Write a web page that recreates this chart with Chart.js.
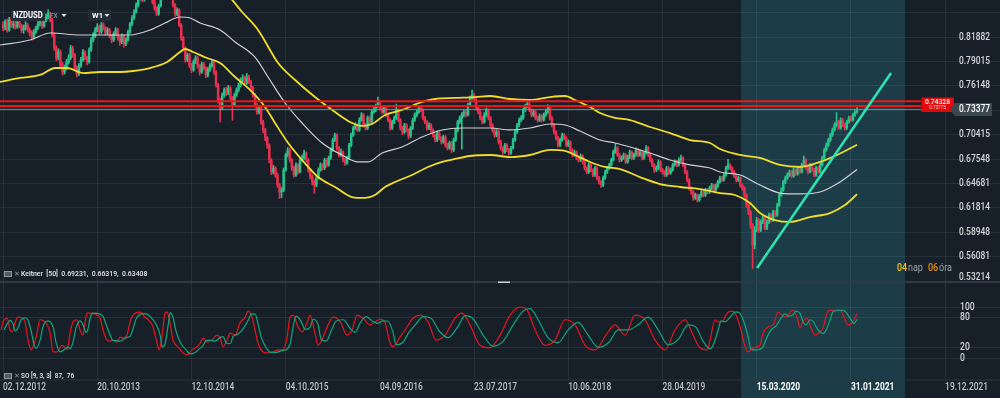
<!DOCTYPE html>
<html>
<head>
<meta charset="utf-8">
<script src="https://cdn.jsdelivr.net/npm/chart.js@4"></script>
<style>
html, body { margin: 0; padding: 0; background: #172029; overflow: hidden; }
#wrap { position: relative; width: 1000px; height: 398px; }
canvas { position: absolute; left: 0; }
#main { top: 0; }
#osc { top: 283px; }
</style>
</head>
<body>
<div id="wrap">
  <canvas id="main" width="1000" height="283"></canvas>
  <canvas id="osc" width="1000" height="115"></canvas>
</div>
<script>
// NZDUSD weekly candles, prices in pips (1/10000)
const firstOpenPips = 8330;
const closePips = [
  8294,8365,8271,8388,8329,8341,8306,8365,8318,8271,
  8294,8329,8271,8235,8188,8247,8294,8341,8365,8318,
  8388,8423,8459,8388,8212,8059,7942,8012,7859,7777,
  7824,7895,7942,8059,7977,7824,7754,7848,7918,8012,
  7942,7895,8036,8153,8200,8271,8306,8247,8329,8294,
  8235,8271,8200,8153,8224,8271,8177,8130,8200,8106,
  8153,8247,8341,8412,8482,8564,8647,8682,8623,8717,
  8741,8694,8658,8600,8529,8459,8553,8647,8694,8764,
  8799,8741,8682,8564,8459,8506,8329,8177,8059,7918,
  7977,7859,7801,7895,7942,7848,7777,7871,7824,7742,
  7801,7848,7895,7777,7624,7448,7354,7507,7566,7530,
  7589,7472,7389,7507,7566,7624,7683,7707,7648,7718,
  7660,7589,7507,7389,7307,7354,7190,7096,7002,6919,
  6743,6602,6649,6567,6449,6367,6391,6626,6802,6861,
  6743,6649,6567,6685,6602,6743,6767,6825,6743,6626,
  6555,6485,6449,6532,6626,6685,6649,6743,6685,6767,
  6861,6978,7037,6884,6802,6837,6743,6708,6767,6919,
  7037,7119,7154,7096,7213,7272,7154,7119,7237,7190,
  7307,7331,7378,7413,7354,7307,7354,7272,7213,7119,
  7190,7237,7331,7213,7119,7072,7154,7096,7025,7119,
  7213,7272,7307,7354,7331,7237,7190,7119,7154,7096,
  7037,6978,7060,7002,6955,7013,6919,6884,6943,6861,
  6978,7096,7190,7237,7272,7307,7272,7389,7472,7507,
  7448,7354,7307,7237,7190,7272,7331,7237,7154,7096,
  7037,7072,6955,6884,6837,6919,6861,6825,6884,6978,
  7072,7154,7213,7237,7331,7378,7401,7331,7272,7307,
  7237,7213,7260,7213,7272,7307,7354,7237,7154,7072,
  7002,6919,6978,7037,7002,6919,6955,6861,6802,6837,
  6767,6743,6790,6720,6649,6602,6685,6626,6567,6649,
  6532,6485,6449,6532,6602,6649,6685,6743,6837,6884,
  6802,6743,6767,6802,6720,6778,6837,6767,6802,6861,
  6802,6837,6767,6825,6884,6802,6743,6685,6626,6649,
  6720,6626,6602,6567,6649,6590,6626,6685,6720,6685,
  6743,6767,6685,6602,6508,6414,6367,6297,6332,6273,
  6320,6367,6332,6391,6367,6414,6449,6391,6438,6485,
  6532,6508,6567,6649,6685,6649,6602,6555,6508,6532,
  6449,6414,6332,6214,6132,5979,5744,5921,6038,5921,
  6015,6062,5944,6015,6097,6038,6132,6097,6214,6332,
  6391,6485,6532,6567,6602,6555,6626,6579,6649,6602,
  6685,6743,6649,6602,6685,6626,6567,6649,6602,6685,
  6767,6861,6919,6978,7037,7096,7154,7190,7119,7213,
  7154,7119,7190,7237,7213,7272,7307,7338
];
const highPips = [
  8372,8390,8398,8420,8412,8380,8372,8395,8384,8340,
  8330,8368,8350,8296,8262,8275,8318,8372,8402,8390,
  8420,8460,8510,8480,8410,8240,8085,8050,8035,7890,
  7860,7925,7980,8090,8080,7995,7850,7875,7950,8040,
  8030,7965,8060,8180,8240,8300,8345,8330,8360,8355,
  8310,8300,8290,8220,8250,8300,8290,8200,8225,8215,
  8180,8270,8360,8440,8510,8590,8670,8720,8705,8745,
  8780,8760,8715,8680,8620,8545,8575,8670,8720,8790,
  8840,8820,8760,8700,8580,8530,8520,8345,8195,8075,
  8000,7995,7880,7920,7970,7960,7865,7895,7890,7840,
  7830,7875,7925,7910,7795,7640,7470,7530,7590,7600,
  7620,7605,7490,7530,7590,7650,7710,7745,7730,7760,
  7740,7680,7610,7525,7410,7380,7370,7210,7115,7020,
  6935,6760,6680,6665,6590,6470,6420,6650,6825,6890,
  6880,6760,6670,6710,6700,6770,6800,6860,6840,6760,
  6640,6570,6510,6560,6650,6710,6700,6765,6760,6790,
  6885,7000,7060,7050,6900,6870,6850,6765,6790,6940,
  7060,7140,7180,7170,7240,7300,7290,7175,7260,7255,
  7330,7360,7400,7483,7430,7370,7380,7370,7290,7230,
  7210,7260,7400,7345,7230,7140,7175,7170,7110,7140,
  7235,7295,7330,7380,7375,7345,7255,7205,7180,7170,
  7110,7050,7085,7075,7020,7035,7030,6940,6965,6960,
  7000,7115,7210,7260,7300,7335,7330,7410,7495,7566,
  7530,7465,7375,7325,7255,7300,7355,7345,7255,7170,
  7110,7100,7090,6975,6900,6940,6935,6880,6905,7000,
  7095,7175,7235,7265,7355,7400,7440,7420,7345,7330,
  7325,7260,7285,7275,7295,7330,7395,7370,7255,7170,
  7090,7020,7000,7060,7055,7020,6980,6970,6880,6860,
  6850,6790,6815,6805,6735,6665,6710,6700,6640,6670,
  6665,6550,6500,6555,6625,6670,6705,6765,6860,6930,
  6900,6820,6790,6825,6820,6800,6860,6850,6825,6885,
  6875,6860,6850,6845,6915,6900,6820,6760,6700,6675,
  6745,6735,6645,6620,6670,6665,6650,6705,6745,6740,
  6770,6800,6780,6700,6620,6525,6430,6385,6355,6345,
  6340,6390,6385,6410,6405,6435,6470,6460,6460,6505,
  6555,6550,6590,6670,6750,6700,6665,6620,6570,6555,
  6545,6465,6430,6345,6230,6150,6000,5960,6070,6055,
  6040,6090,6075,6040,6120,6115,6155,6150,6235,6355,
  6415,6505,6555,6590,6625,6620,6650,6640,6670,6665,
  6705,6790,6760,6665,6705,6700,6645,6670,6665,6705,
  6790,6885,6945,7000,7060,7120,7180,7300,7210,7240,
  7230,7175,7210,7260,7255,7295,7330,7360
];
const lowPips = [
  8262,8270,8245,8255,8300,8290,8280,8290,8296,8240,
  8232,8270,8248,8200,8150,8165,8230,8275,8318,8290,
  8300,8365,8400,8365,8190,8030,7910,7920,7830,7740,
  7750,7800,7870,7920,7950,7800,7720,7735,7830,7900,
  7920,7860,7880,8020,8130,8180,8250,8220,8230,8270,
  8210,8215,8180,8120,8135,8205,8150,8090,8110,8070,
  8085,8140,8230,8320,8395,8470,8540,8620,8600,8610,
  8690,8670,8630,8575,8500,8440,8445,8540,8625,8680,
  8745,8720,8660,8540,8430,8440,8310,8150,8030,7890,
  7900,7830,7770,7785,7875,7820,7740,7760,7800,7710,
  7720,7785,7830,7750,7600,7410,7190,7330,7480,7500,
  7510,7445,7210,7370,7490,7545,7600,7660,7620,7630,
  7640,7560,7480,7360,7280,7285,7160,7060,6970,6880,
  6710,6570,6580,6540,6420,6290,6300,6370,6610,6780,
  6720,6620,6540,6550,6580,6590,6720,6750,6720,6600,
  6520,6450,6350,6430,6520,6610,6625,6630,6660,6670,
  6750,6845,6960,6860,6780,6785,6720,6680,6690,6750,
  6900,7020,7100,7075,7080,7200,7130,7095,7100,7170,
  7175,7290,7310,7360,7330,7285,7290,7250,7190,7095,
  7100,7170,7220,7195,7095,7040,7055,7075,6990,7005,
  7100,7195,7250,7290,7310,7215,7170,7095,7100,7070,
  7010,6955,6960,6980,6930,6940,6895,6860,6870,6830,
  6840,6960,7075,7170,6870,7250,7250,7260,7370,7455,
  7425,7330,7285,7215,7165,7175,7255,7215,7130,7070,
  7010,7015,6930,6860,6810,6820,6840,6800,6810,6870,
  6960,7055,7135,7195,7220,7310,7360,7310,7250,7255,
  7215,7190,7195,7190,7200,7255,7290,7215,7130,7050,
  6980,6895,6900,6960,6980,6895,6900,6840,6780,6785,
  6745,6720,6725,6695,6625,6580,6585,6605,6545,6550,
  6510,6460,6420,6430,6515,6585,6630,6670,6730,6820,
  6785,6720,6725,6750,6700,6705,6760,6745,6750,6785,
  6780,6785,6745,6750,6810,6780,6720,6665,6600,6605,
  6630,6605,6580,6545,6550,6570,6575,6610,6670,6665,
  6670,6725,6665,6580,6485,6390,6340,6270,6280,6250,
  6255,6305,6310,6315,6345,6350,6395,6370,6375,6420,
  6470,6490,6495,6550,6630,6630,6580,6535,6485,6490,
  6425,6390,6305,6185,6100,5940,5470,5700,5900,5890,
  5900,5995,5920,5925,5995,6015,6020,6075,6080,6200,
  6315,6375,6465,6515,6550,6535,6540,6560,6565,6585,
  6590,6670,6630,6580,6590,6605,6545,6550,6585,6590,
  6670,6750,6845,6900,6960,7020,7080,7135,7100,7105,
  7135,7095,7100,7175,7195,7200,7255,7290
];

// Keltner channel [50]: [bar index, price]
const kcUpper = [
  [96.2,0.8917],[108.4,0.8717],[116.7,0.8482],[124.5,0.8271],[134.3,0.7883],[142.6,0.7683],
  [152.3,0.7483],[162.1,0.7307],[170.4,0.7178],[175.3,0.7143],[180.2,0.7166],[186.5,0.7272],
  [194.8,0.7331],[204.6,0.7425],[210.9,0.7460],[220.7,0.7472],[230.5,0.7483],[237.8,0.7495],
  [247.6,0.7460],[257.3,0.7448],[267.1,0.7483],[274.4,0.7495],[279.3,0.7448],[286.6,0.7366],
  [291.5,0.7295],[298.8,0.7237],[306.2,0.7213],[315.9,0.7131],[325.7,0.7060],[335.4,0.6978],
  [345.2,0.6943],[350.1,0.6872],[359.9,0.6802],[369.6,0.6767],[379.4,0.6685],[389.2,0.6661],
  [398.9,0.6720],[407.2,0.6802],[417,0.69231]
];
const kcMiddle = [
  [-1.5,0.8094],[13.2,0.8153],[23,0.8235],[37.6,0.8212],[62,0.8212],[71.8,0.8271],
  [79.1,0.8353],[86.4,0.8423],[91.3,0.8412],[96.2,0.8353],[106,0.8271],[113.3,0.8130],
  [123,0.7953],[129.4,0.7718],[137.7,0.7413],[146,0.7178],[155.8,0.6943],[165.5,0.6802],
  [173.3,0.6720],[178.2,0.6720],[185.1,0.6825],[194.8,0.6896],[204.6,0.7013],[214.4,0.7096],
  [224.1,0.7119],[237.8,0.7119],[247.6,0.7096],[257.3,0.7119],[267.1,0.7166],[274.4,0.7154],
  [281.7,0.7084],[291.5,0.6978],[298.8,0.6943],[306.2,0.6896],[315.9,0.6825],[325.7,0.6743],
  [335.4,0.6685],[345.2,0.6649],[350.1,0.6602],[359.9,0.6567],[369.6,0.6449],[379.4,0.6355],
  [389.2,0.6344],[398.9,0.6367],[408.7,0.6485],[417,0.66319]
];
const kcLower = [
  [-1.5,0.7660],[8.3,0.7707],[18.1,0.7742],[25.4,0.7824],[31.3,0.7824],[39.1,0.7765],
  [47.4,0.7777],[57.1,0.7777],[63.5,0.7789],[71.8,0.7824],[80.1,0.7895],[86.4,0.8012],
  [88.9,0.8047],[92.8,0.8012],[99.6,0.7942],[106,0.7883],[113.3,0.7718],[120.6,0.7566],
  [127.9,0.7366],[132.8,0.7178],[139.2,0.6943],[146,0.6743],[153.8,0.6543],[162.1,0.6426],
  [170.4,0.6308],[176.8,0.6297],[181.6,0.6332],[186.5,0.6426],[191.4,0.6485],[199.7,0.6567],
  [207.5,0.6661],[214.4,0.6720],[220.7,0.6755],[228,0.6790],[237.8,0.6802],[247.6,0.6778],
  [257.3,0.6802],[267.1,0.6861],[274.4,0.6849],[279.3,0.6802],[286.6,0.6720],[293.9,0.6661],
  [301.3,0.6637],[311,0.6543],[320.8,0.6461],[330.6,0.6426],[340.3,0.6402],[350.1,0.6355],
  [357.4,0.6332],[364.7,0.6238],[369.6,0.6120],[376.9,0.6038],[384.3,0.6015],[394,0.6073],
  [403.8,0.6120],[411.1,0.6214],[417,0.63408]
];

// Stochastic oscillator [9,3,3]: [bar index, value]
const soK = [
  [-1,55],[0,71],[2,78],[3.4,55],[4.4,51],[6,71],[7.3,80],[9.3,78],[10.7,71],[12.2,35],
  [13.7,16],[14.6,22],[16.6,49],[18,75],[20.5,71],[23,49],[24.4,12],[26.4,12],[28.8,25],[30.3,20],
  [31.3,16],[32.7,49],[34.2,71],[36.1,75],[37.6,55],[39,45],[40,69],[41,88],[42.5,88],[45.9,84],
  [47.4,78],[48.8,55],[50.8,35],[52.2,33],[53.7,35],[55.7,31],[57.1,41],[58.6,39],[60.5,45],[62,71],
  [63.5,84],[66.9,90],[69.3,80],[71.8,71],[73.2,61],[75.2,29],[76.2,16],[77.6,41],[79.1,88],[80.1,90],
  [81.5,69],[83,35],[85.4,22],[87.9,10],[89.8,6],[92.3,16],[94.7,22],[96.2,29],[97.7,39],[99.6,31],
  [102,35],[104.5,45],[106,39],[107.4,22],[109.4,35],[110.8,49],[113.3,45],[115.7,69],[118.2,80],[119.6,92],
  [121.6,80],[123,55],[124.5,29],[127,12],[129.4,10],[131.8,12],[134.3,16],[136.7,16],[138.7,41],[140.1,80],
  [141.6,84],[144,61],[146,51],[148.4,69],[149.9,84],[152.3,49],[153.8,25],[156.3,41],[158.7,65],[161.1,80],
  [164.6,71],[168,45],[170.4,55],[172.9,84],[175.8,78],[179.2,65],[181.6,71],[184.1,76],[186.5,69],[189,29],
  [190.4,22],[193.8,41],[196.3,55],[200.2,78],[203.6,84],[207.5,71],[211.4,35],[215.8,45],[220.7,78],[224.1,88],
  [228,65],[232.9,25],[237.8,20],[242.7,45],[247.6,84],[252.4,100],[255.9,94],[259.8,55],[264.6,25],[269.5,35],
  [274.4,75],[279.3,65],[284.2,25],[289.1,16],[294.4,45],[298.8,65],[303.7,45],[308.6,84],[313.5,75],[318.4,35],
  [323.2,16],[328.1,55],[333,75],[336.9,45],[340.3,20],[343.8,16],[345.2,35],[347.7,75],[349.1,71],[351.1,71],
  [353.5,88],[356,92],[357.4,88],[359.9,61],[362.3,22],[363.8,12],[366.2,20],[369.6,25],[371.1,49],[373.5,61],
  [376,65],[378.4,90],[380.4,84],[381.8,80],[384.3,90],[385.7,94],[387.7,80],[389.2,59],[390.6,71],[392.6,78],
  [394,65],[396.5,45],[398.9,51],[400.4,59],[402.3,88],[403.8,94],[408.7,94],[410.2,84],[412.6,65],[414.6,69],
  [417,87]
];
const soD = [
  [0.5,55],[1.5,63],[3.5,74],[4.9,66],[5.9,53],[7.5,61],[8.8,75],[10.8,79],[12.2,74],[13.7,53],
  [15.2,25],[16.1,19],[18.1,35],[19.5,62],[22,73],[24.5,60],[25.9,30],[27.9,12],[30.3,18],[31.8,22],
  [32.8,18],[34.2,32],[35.7,60],[37.6,73],[39.1,65],[40.5,50],[41.5,57],[42.5,78],[44,88],[47.4,86],
  [48.9,81],[50.3,66],[52.3,45],[53.7,34],[55.2,34],[57.2,33],[58.6,36],[60.1,40],[62,42],[63.5,58],
  [65,77],[68.4,87],[70.8,85],[73.3,75],[74.7,66],[76.7,45],[77.7,22],[79.1,28],[80.6,64],[81.6,89],
  [83,79],[84.5,52],[86.9,28],[89.4,16],[91.3,8],[93.8,11],[96.2,19],[97.7,25],[99.2,34],[101.1,35],
  [103.5,33],[106,40],[107.5,42],[108.9,30],[110.9,28],[112.3,42],[114.8,47],[117.2,57],[119.7,74],[121.1,86],
  [123.1,86],[124.5,67],[126,42],[128.5,20],[130.9,11],[133.3,11],[135.8,14],[138.2,16],[140.2,28],[141.6,60],
  [143.1,82],[145.5,72],[147.5,56],[149.9,60],[151.4,76],[153.8,66],[155.3,37],[157.8,33],[160.2,53],[162.6,72],
  [166.1,75],[169.5,58],[171.9,50],[174.4,69],[177.3,81],[180.7,71],[183.1,68],[185.6,73],[188,72],[190.5,49],
  [191.9,26],[195.3,31],[197.8,48],[201.7,67],[205.1,81],[209,78],[212.9,53],[217.3,40],[222.2,62],[225.6,83],
  [229.5,77],[234.4,45],[239.3,23],[244.2,33],[249.1,65],[253.9,92],[257.4,97],[261.3,75],[266.1,40],[271,30],
  [275.9,55],[280.8,70],[285.7,45],[290.6,21],[295.9,31],[300.3,55],[305.2,55],[310.1,65],[315,80],[319.9,55],
  [324.7,26],[329.6,36],[334.5,65],[338.4,60],[341.8,33],[345.3,18],[346.7,25],[349.2,55],[350.6,73],[352.6,71],
  [355,80],[357.5,90],[358.9,90],[361.4,75],[363.8,42],[365.3,17],[367.7,16],[371.1,22],[372.6,37],[375,55],
  [377.5,63],[379.9,78],[381.9,87],[383.3,82],[385.8,85],[387.2,92],[389.2,87],[390.7,70],[392.1,65],[394.1,75],
  [395.5,72],[398,55],[400.4,48],[401.9,55],[403.8,74],[405.3,91],[410.2,94],[411.7,89],[414.1,75],[415.5,68],
  [417,76]
];

// axis ticks and labels
const priceTicks = [0.53214,0.56081,0.58948,0.61814,0.64681,0.67548,0.70415,0.73282,0.76148,0.79015,0.81882,0.84749];
const soTicks = [0, 20, 80, 100];
const dateIdx = [0, 46, 92, 138, 184, 230, 276, 322, 368, 414, 460];
const dateLabels = ['02.12.2012','20.10.2013','12.10.2014','04.10.2015','04.09.2016','23.07.2017',
                    '10.06.2018','28.04.2019','15.03.2020','31.01.2021','19.12.2021'];

// drawn levels
const resistance = [0.74328, 0.73775];
const lastPrice = 0.73377;
const trend = [[368.2, 0.5474], [433.6, 0.7765]];
const highlightFrom = 360.4, highlightTo = 440.4;
const keltnerText = 'Keltner  [50]  0.69231,  0.66319,  0.63408';
const soText = 'SO [9, 3, 3]  87,  76';

const X_MIN = -1.5, X_MAX = 486.8;
const BG = '#172029', HILITE = '#1c3c48', GRID = 'rgba(255,255,255,0.065)';
const UP = '#27c38b', DOWN = '#e8304e';
const FONT = 'Roboto, "Liberation Sans", sans-serif';

function txt(ctx, s, x, y, size, color, weight, squeeze, align) {
  ctx.font = (weight || '400') + ' ' + size + 'px ' + FONT;
  ctx.fillStyle = color;
  ctx.textAlign = align || 'left';
  ctx.textBaseline = 'middle';
  const w = ctx.measureText(s).width * (squeeze || 1);
  ctx.fillText(s, x, y, w);
}

const backdrop = {
  id: 'backdrop',
  beforeDraw(chart) {
    const { ctx, width, height } = chart;
    const x = chart.scales.x;
    ctx.save();
    ctx.fillStyle = BG;
    ctx.fillRect(0, 0, width, height);
    const a = x.getPixelForValue(highlightFrom), b = x.getPixelForValue(highlightTo);
    ctx.fillStyle = HILITE;
    ctx.fillRect(a, 0, b - a, height);
    ctx.restore();
  }
};

const xAxis = {
  type: 'linear', min: X_MIN, max: X_MAX, offset: false,
  grid: { color: GRID, drawTicks: false, offset: false },
  border: { display: false },
  ticks: { display: false },
  afterBuildTicks: s => { s.ticks = dateIdx.map(v => ({ value: v })); },
  afterFit: s => { s.height = 0; }
};

const opens = closePips.map((c, i) => i ? closePips[i - 1] : firstOpenPips);
const colors = closePips.map((c, i) => c >= opens[i] ? UP : DOWN);
const pts = arr => arr.map(([x, y]) => ({ x, y }));

const mainOverlay = {
  id: 'mainOverlay',
  afterDraw(chart) {
    const { ctx } = chart;
    const y = chart.scales.y;
    ctx.save();
    // panel separator
    ctx.fillStyle = '#2e3943';
    ctx.fillRect(0, 281, 1000, 2);
    ctx.fillStyle = '#c9ced3';
    ctx.fillRect(498, 281.5, 12, 1.5);

    // price labels
    priceTicks.slice(0, -1).forEach(v => {
      const py = Math.min(y.getPixelForValue(v), 277);
      txt(ctx, v.toFixed(5), 959, py, 10, '#d3d7db', '500', 0.84);
    });

    // red level tag
    ctx.fillStyle = '#e00a0a';
    ctx.fillRect(921.5, 97.5, 32.5, 14.5);
    txt(ctx, resistance[0].toFixed(5), 937.5, 101.5, 8, '#ffffff', '500', 0.85, 'center');
    txt(ctx, resistance[1].toFixed(5), 937.5, 108, 5, '#ffd9d9', '400', 0.9, 'center');

    // last price tag
    const ly = y.getPixelForValue(lastPrice);
    ctx.fillStyle = '#3b4852';
    ctx.beginPath();
    ctx.moveTo(950, ly);
    ctx.lineTo(955, ly - 6.5);
    ctx.lineTo(992, ly - 6.5);
    ctx.lineTo(992, ly + 6.5);
    ctx.lineTo(955, ly + 6.5);
    ctx.closePath();
    ctx.fill();
    txt(ctx, lastPrice.toFixed(5), 959, ly + 0.5, 10, '#ffffff', '500', 0.84);

    // symbol header
    ctx.fillStyle = '#232d37';
    ctx.fillRect(11, 10, 34, 11);
    txt(ctx, 'NZDUSD', 13, 16, 8.5, '#ffffff', '700', 0.9);
    txt(ctx, 'FX', 50, 16.5, 6.5, '#8b949c', '500');
    ctx.fillStyle = '#e6e9ec';
    ctx.beginPath(); ctx.moveTo(61.5, 14); ctx.lineTo(66.5, 14); ctx.lineTo(64, 17); ctx.fill();
    ctx.fillStyle = '#232d37';
    ctx.fillRect(88, 10, 23, 11);
    txt(ctx, 'W1', 92, 16, 8, '#ffffff', '700', 0.95);
    ctx.fillStyle = '#e6e9ec';
    ctx.beginPath(); ctx.moveTo(104.5, 14); ctx.lineTo(109.5, 14); ctx.lineTo(107, 17); ctx.fill();

    // indicator caption
    ctx.fillStyle = '#8d969e';
    ctx.fillRect(4, 271, 8, 6);
    ctx.fillStyle = '#172029';
    ctx.fillRect(5, 272.5, 6, 1);
    ctx.fillRect(5, 274.5, 6, 1);
    txt(ctx, '✕', 14, 274, 6.5, '#8d969e', '400');
    txt(ctx, keltnerText, 21, 274, 8, '#e4e7ea', '500', 0.86);

    // countdown
    txt(ctx, '04', 897, 268, 10, '#f3c316', '500', 0.9);
    txt(ctx, 'nap', 908, 268, 10, '#98a1a9', '400', 0.9);
    txt(ctx, '06', 928, 268, 10, '#e48c14', '500', 0.9);
    txt(ctx, 'óra', 939, 268, 10, '#98a1a9', '400', 0.9);
    ctx.restore();
  }
};

new Chart(document.getElementById('main'), {
  type: 'bar',
  data: {
    datasets: [
      { type: 'bar', data: closePips.map((c, i) => ({ x: i, y: [lowPips[i] / 1e4, highPips[i] / 1e4] })),
        backgroundColor: colors, barThickness: 1, grouped: false, borderWidth: 0, order: 10 },
      { type: 'bar', data: closePips.map((c, i) => ({ x: i, y: [opens[i] / 1e4, c / 1e4] })),
        backgroundColor: colors, barThickness: 1.8, minBarLength: 1, grouped: false, borderWidth: 0, order: 9 },
      { type: 'line', data: pts(kcMiddle), borderColor: '#cfd0d0', borderWidth: 1.2, pointRadius: 0,
        cubicInterpolationMode: 'monotone', order: 5 },
      { type: 'line', data: pts(kcUpper), borderColor: '#f0dc2a', borderWidth: 1.8, pointRadius: 0,
        cubicInterpolationMode: 'monotone', order: 4 },
      { type: 'line', data: pts(kcLower), borderColor: '#f0dc2a', borderWidth: 1.8, pointRadius: 0,
        cubicInterpolationMode: 'monotone', order: 4 },
      { type: 'line', data: [{ x: X_MIN, y: lastPrice }, { x: 463.9, y: lastPrice }],
        borderColor: '#7f8a93', borderWidth: 1, pointRadius: 0, order: 3 },
      ...resistance.map(v => ({ type: 'line', data: [{ x: X_MIN, y: v }, { x: 448.2, y: v }],
        borderColor: '#f01414', borderWidth: 2, pointRadius: 0, order: 2 })),
      { type: 'line', data: pts(trend), borderColor: '#2fe2b0', borderWidth: 2.5, pointRadius: 0, order: 1 }
    ]
  },
  options: {
    responsive: false, animation: false, events: [],
    layout: { padding: 0 },
    plugins: { legend: { display: false }, tooltip: { enabled: false } },
    scales: {
      x: xAxis,
      y: {
        min: 0.5298, max: 0.8623, position: 'right',
        grid: { color: GRID, drawTicks: false },
        border: { display: false },
        ticks: { display: false },
        afterBuildTicks: s => { s.ticks = priceTicks.map(v => ({ value: v })); },
        afterFit: s => { s.width = 0; }
      }
    }
  },
  plugins: [backdrop, mainOverlay]
});

const oscOverlay = {
  id: 'oscOverlay',
  afterDraw(chart) {
    const { ctx } = chart;
    const x = chart.scales.x, y = chart.scales.y;
    ctx.save();
    ctx.fillStyle = '#2a353e';
    ctx.fillRect(0, 96.5, 1000, 1);
    soTicks.forEach(v => txt(ctx, String(v), 960, y.getPixelForValue(v), 10, '#d3d7db', '500', 0.86));
    ctx.fillStyle = '#8d969e';
    ctx.fillRect(4, 90, 8, 6);
    ctx.fillStyle = '#172029';
    ctx.fillRect(5, 91.5, 6, 1);
    ctx.fillRect(5, 93.5, 6, 1);
    txt(ctx, '✕', 14, 93, 6.5, '#8d969e', '400');
    txt(ctx, soText, 21, 93, 7.5, '#e4e7ea', '500', 0.86);
    dateIdx.forEach((v, k) => {
      const inside = v >= highlightFrom && v <= highlightTo;
      txt(ctx, dateLabels[k], x.getPixelForValue(v), 104, 10,
          inside ? '#ffffff' : '#bcc2c8', inside ? '700' : '500', 0.84);
    });
    ctx.restore();
  }
};

new Chart(document.getElementById('osc'), {
  type: 'line',
  data: {
    datasets: [
      { data: pts(soK), borderColor: '#e5161b', borderWidth: 1.2, pointRadius: 0,
        cubicInterpolationMode: 'monotone', order: 2 },
      { data: pts(soD), borderColor: '#14a57c', borderWidth: 1.2, pointRadius: 0,
        cubicInterpolationMode: 'monotone', order: 1 }
    ]
  },
  options: {
    responsive: false, animation: false, events: [],
    layout: { padding: { bottom: 18 } },
    plugins: { legend: { display: false }, tooltip: { enabled: false } },
    scales: {
      x: xAxis,
      y: {
        min: -43.1, max: 147.1, position: 'right',
        grid: { color: GRID, drawTicks: false },
        border: { display: false },
        ticks: { display: false },
        afterBuildTicks: s => { s.ticks = soTicks.map(v => ({ value: v })); },
        afterFit: s => { s.width = 0; }
      }
    }
  },
  plugins: [backdrop, oscOverlay]
});
</script>
</body>
</html>
